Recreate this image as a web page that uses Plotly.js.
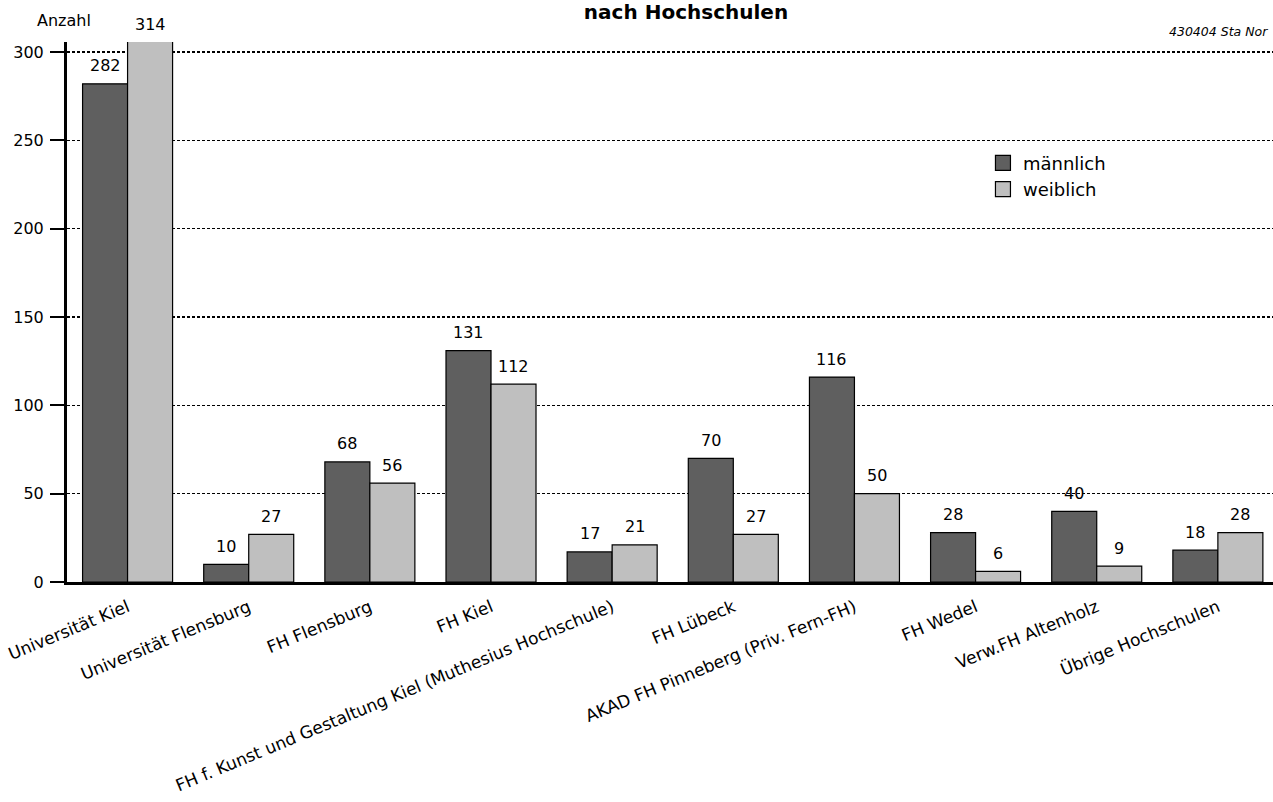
<!DOCTYPE html>
<html>
<head>
<meta charset="utf-8">
<script src="https://cdn.plot.ly/plotly-3.0.1.min.js"></script>
<style>
  html, body { margin: 0; padding: 0; background: #ffffff; }
  #chart { width: 1273px; height: 802px; }
</style>
</head>
<body>
<div id="chart"></div>
<script>
// ---- data ----
const categories = [
  'Universität Kiel',
  'Universität Flensburg',
  'FH Flensburg',
  'FH Kiel',
  'FH f. Kunst und Gestaltung Kiel (Muthesius Hochschule)',
  'FH Lübeck',
  'AKAD FH Pinneberg (Priv. Fern-FH)',
  'FH Wedel',
  'Verw.FH Altenholz',
  'Übrige Hochschulen'
];
const maleValues   = [282, 10, 68, 131, 17, 70, 116, 28, 40, 18];
const femaleValues = [314, 27, 56, 112, 21, 27, 50, 6, 9, 28];
const seriesNames  = ['männlich', 'weiblich'];
const yTickValues  = [0, 50, 100, 150, 200, 250, 300];
const titleText    = '<b>nach Hochschulen</b>';
const yAxisLabel   = 'Anzahl';
const sourceText   = '430404 Sta Nor';

// ---- styles ----
const FONT = 'DejaVu Sans, Liberation Sans, Arial, sans-serif';
const colors = ['#5f5f5f', '#bfbfbf'];
const yMax = 305.7;
const bargap = 0.257;
const xPos = categories.map((_, i) => i);

const seriesValues = [maleValues, femaleValues];

const traces = seriesValues.map((vals, s) => ({
  type: 'bar',
  x: xPos,
  y: vals,
  name: seriesNames[s],
  showlegend: false,
  marker: { color: colors[s], line: { color: '#000000', width: 1.2 } },
  hoverinfo: 'y'
}));

// legend proxies (larger square symbols)
seriesNames.forEach((n, s) => {
  traces.push({
    type: 'scatter',
    mode: 'markers',
    x: [null],
    y: [null],
    name: n,
    showlegend: true,
    marker: { symbol: 'square', size: 15, color: colors[s], line: { color: '#000000', width: 1.2 } }
  });
});

// value labels, placed above each (visible) bar top
const barHalf = (1 - bargap) / 4;
const annotations = [];
seriesValues.forEach((vals, s) => {
  vals.forEach((v, i) => {
    annotations.push({
      x: i + (s === 0 ? -barHalf : barHalf),
      y: Math.min(v, yMax),
      xref: 'x', yref: 'y',
      text: String(v),
      showarrow: false,
      yanchor: 'middle',
      xanchor: 'center',
      yshift: 18,
      font: { family: FONT, size: 16, color: '#000000' }
    });
  });
});
annotations.push({
  xref: 'paper', yref: 'paper',
  x: -0.0025, y: 1.0,
  yshift: 22,
  text: yAxisLabel,
  showarrow: false,
  xanchor: 'center', yanchor: 'middle',
  font: { family: FONT, size: 16, color: '#000000' }
});
annotations.push({
  xref: 'paper', yref: 'paper',
  x: 0.9975, y: 1.0,
  yshift: 11,
  text: '<i>' + sourceText + '</i>',
  showarrow: false,
  xanchor: 'right', yanchor: 'middle',
  font: { family: FONT, size: 12.5, color: '#000000' }
});

const layout = {
  width: 1273,
  height: 802,
  margin: { l: 67, r: 0, t: 42, b: 220, pad: 0 },
  paper_bgcolor: '#ffffff',
  plot_bgcolor: '#ffffff',
  barmode: 'group',
  bargap: bargap,
  bargroupgap: 0,
  font: { family: FONT, size: 16, color: '#000000' },
  title: {
    text: titleText,
    x: 686 / 1273,
    xanchor: 'center',
    xref: 'container',
    yref: 'container',
    y: 1 - 12 / 802,
    yanchor: 'middle',
    font: { family: FONT, size: 20, color: '#000000' }
  },
  xaxis: {
    type: 'linear',
    range: [-0.5, 9.455],
    tickmode: 'array',
    tickvals: xPos,
    ticktext: categories,
    tickangle: -22.5,
    ticks: '',
    ticklabelstandoff: 6,
    showgrid: false,
    zeroline: false,
    showline: true,
    linecolor: '#000000',
    linewidth: 3,
    tickfont: { family: FONT, size: 17, color: '#000000' },
    fixedrange: true
  },
  yaxis: {
    range: [0, yMax],
    tickmode: 'array',
    tickvals: yTickValues,
    ticks: 'outside',
    ticklen: 14,
    tickwidth: 2,
    tickcolor: '#000000',
    ticklabelstandoff: 3,
    showline: true,
    linecolor: '#000000',
    linewidth: 3,
    showgrid: true,
    gridcolor: '#000000',
    gridwidth: 1.5,
    griddash: '3px,2px',
    zeroline: false,
    tickfont: { family: FONT, size: 16, color: '#000000' },
    fixedrange: true
  },
  legend: {
    x: 0.7595,
    y: 0.81,
    xanchor: 'left',
    yanchor: 'top',
    bgcolor: 'rgba(255,255,255,0)',
    borderwidth: 0,
    font: { family: FONT, size: 18, color: '#000000' },
    tracegroupgap: 0
  },
  annotations: annotations,
  showlegend: true
};

Plotly.newPlot('chart', traces, layout, { displayModeBar: false, staticPlot: true });
</script>
</body>
</html>
